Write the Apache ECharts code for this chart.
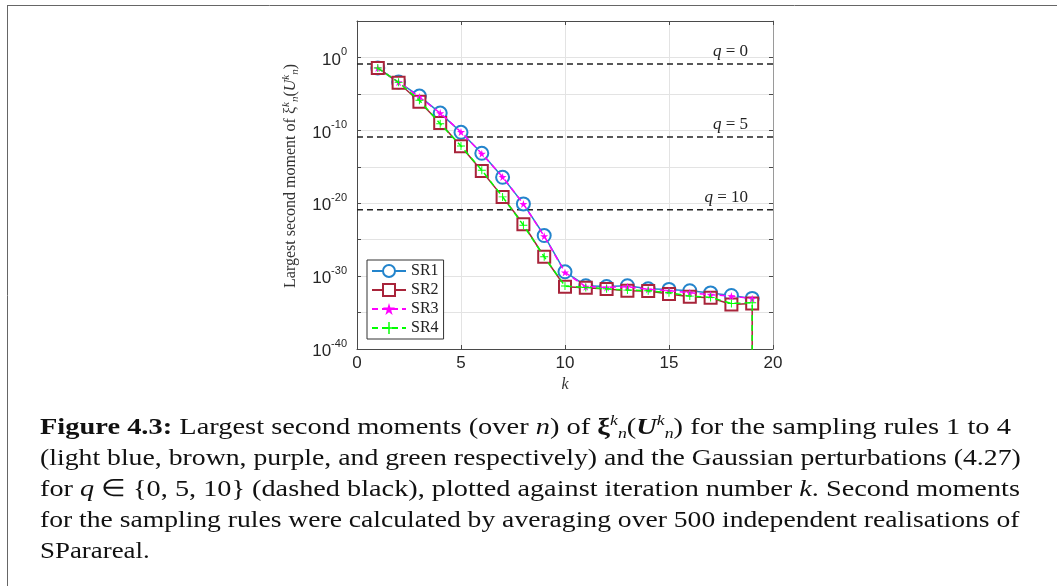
<!DOCTYPE html>
<html><head><meta charset="utf-8">
<script src="https://cdn.jsdelivr.net/npm/echarts@6/dist/echarts.min.js"></script>
<style>html,body{margin:0;padding:0;background:#fff}#c{width:1057px;height:586px}</style>
</head><body><div id="c"></div><script>
const kValues = [1,2,3,4,5,6,7,8,9,10,11,12,13,14,15,16,17,18,19];
const sr1 = [3.5e-2,4.2e-4,5.0e-6,2.3e-8,5.4e-11,7.1e-14,3.6e-17,8.1e-21,3.7e-25,3.9e-30,4.8e-32,3.8e-32,4.8e-32,1.8e-32,1.5e-32,1.0e-32,5.0e-33,2.2e-33,8.7e-34];
const sr2 = [3.5e-2,3.4e-4,8.5e-7,1.0e-9,6.5e-13,2.7e-16,7.4e-20,1.3e-23,4.5e-28,3.5e-32,2.5e-32,1.7e-32,1.0e-32,8.9e-33,3.4e-33,1.5e-33,1.1e-33,1.3e-34,1.8e-34];
const sr3 = [3.5e-2,4.0e-4,3.7e-6,2.3e-8,5.9e-11,6.3e-14,4.1e-17,8.1e-21,3.0e-25,3.2e-30,3.5e-32,2.8e-32,3.5e-32,1.5e-32,1.0e-32,5.2e-33,2.8e-33,1.8e-33,7.9e-34];
const sr4 = [3.5e-2,3.8e-4,1.3e-6,8.1e-10,7.1e-13,3.3e-16,7.4e-20,9.8e-24,4.5e-28,4.3e-32,2.8e-32,1.8e-32,1.2e-32,1.0e-32,5.2e-33,1.8e-33,1.2e-33,1.8e-34,2.2e-34];
const dropValue = 1e-60; // SR2 and SR4 fall off the bottom of the axis at k = 19
const qLevels = [1.26e-1, 1.26e-11, 1.26e-21];
const qNames = ['0','5','10'];
const xTicks = [0,5,10,15,20];
const yTickExps = [-40,-30,-20,-10,0]; // labelled decades (10^e)
const yMinExp = -40, yMaxExp = 5, yStepExp = 5;

const serif = 'Liberation Serif';
const sans = 'Liberation Sans';
const lg = v => Math.log10(v); // y axis is drawn in decades (log10 scale)

function pairs(vals, drop){
  const d = kValues.map((k,i)=>[k, lg(vals[i])]);
  if (drop) d.push({value:[kValues[kValues.length-1], lg(dropValue)], symbol:'none'});
  return d;
}
const starPath = 'path://M50,0 L61,35 L98,35 L68,57 L79,91 L50,70 L21,91 L32,57 L2,35 L39,35 Z';
const plusPath = 'path://M44,0H56V44H100V56H56V100H44V56H0V44H44Z';

const chart = echarts.init(document.getElementById('c'), null, {renderer:'canvas'});
const yLabelFmt = v => yTickExps.indexOf(Math.round(v)) >= 0 ? '{b|10}{s|' + Math.round(v) + '}' : '';
const xLabelFmt = v => xTicks.indexOf(v) >= 0 ? String(v) : '';
const gridColor = '#e3e3e3';
const axisColor = '#4a4a4a';

const qSeries = qLevels.map((q,i)=>({
  type:'line', name:'q'+i, data:[[0,lg(q)],[20,lg(q)]], symbol:'none', silent:true,
  lineStyle:{color:'#222', width:1.5, type:[6,4]}, z:1,
  markLine:{symbol:'none', silent:true, animation:false,
    lineStyle:{color:'rgba(0,0,0,0)', width:1, type:'solid'},
    data:[{yAxis:lg(q)}],
    label:{show:true, position:'insideEndTop', distance:[25,4], color:'#222',
      formatter:'{i|q} = ' + qNames[i],
      fontFamily:serif, fontSize:17,
      rich:{i:{fontFamily:serif, fontStyle:'italic', fontSize:17, color:'#222'}}}}
}));

const option = {
  animation:false,
  backgroundColor:'#fff',
  grid:{left:357, top:21, width:416, height:328, containLabel:false},
  xAxis:[{type:'value', min:0, max:20, interval:5,
    name:'k', nameLocation:'middle', nameGap:28,
    nameTextStyle:{fontFamily:serif, fontStyle:'italic', fontSize:16, color:'#333'},
    axisLine:{show:true, onZero:false, lineStyle:{color:axisColor, width:1}},
    axisTick:{show:true, inside:true, length:4, lineStyle:{color:axisColor}},
    axisLabel:{formatter:xLabelFmt, fontFamily:sans, fontSize:17, color:'#262626', margin:6},
    splitLine:{show:true, lineStyle:{color:gridColor, width:1}}},
   {type:'value', min:0, max:20, interval:5, position:'top',
    axisLine:{show:true, onZero:false, lineStyle:{color:axisColor, width:1}},
    axisTick:{show:true, inside:true, length:4, lineStyle:{color:axisColor}},
    axisLabel:{show:false}, splitLine:{show:false}}],
  yAxis:[{type:'value', min:yMinExp, max:yMaxExp, interval:yStepExp,
    name:'{t|Largest second moment of }{m|ξ}{sup|k}{sub|n}{t|(}{mi|U}{sup|k}{sub|n}{t|)}',
    nameLocation:'middle', nameGap:56,
    nameTextStyle:{fontFamily:serif, fontSize:16, color:'#333', padding:[0,0,0,18],
      rich:{t:{fontFamily:serif, fontSize:16, color:'#333'},
            m:{fontFamily:serif, fontSize:16, color:'#333'},
            mi:{fontFamily:serif, fontStyle:'italic', fontSize:16, color:'#333'},
            sup:{fontFamily:serif, fontStyle:'italic', fontSize:11, color:'#333', verticalAlign:'top', lineHeight:20},
            sub:{fontFamily:serif, fontStyle:'italic', fontSize:11, color:'#333', verticalAlign:'bottom', lineHeight:20}}},
    axisLine:{show:true, onZero:false, lineStyle:{color:axisColor, width:1}},
    axisTick:{show:true, inside:true, length:4, lineStyle:{color:axisColor}},
    axisLabel:{formatter:yLabelFmt, margin:10, color:'#262626',
      rich:{b:{fontFamily:sans, fontSize:17, color:'#262626', lineHeight:22, verticalAlign:'bottom'},
            s:{fontFamily:sans, fontSize:11, color:'#262626', lineHeight:22, verticalAlign:'top'}}},
    splitLine:{show:true, lineStyle:{color:gridColor, width:1}}},
   {type:'value', min:yMinExp, max:yMaxExp, interval:yStepExp, position:'right',
    axisLine:{show:true, onZero:false, lineStyle:{color:'#9a9a9a', width:1}},
    axisTick:{show:true, inside:true, length:4, lineStyle:{color:axisColor}},
    axisLabel:{show:false}, splitLine:{show:false}}],
  legend:{show:true, orient:'vertical', left:367, top:260, data:['SR1','SR2','SR3','SR4'],
    itemWidth:34, itemHeight:15, itemGap:3, padding:[3,5,3,4],
    backgroundColor:'#fff', borderColor:'#333', borderWidth:1, borderRadius:0,
    textStyle:{fontFamily:serif, fontSize:16, lineHeight:14, color:'#222'}},
  series:[
    ...qSeries,
    {type:'line', name:'SR1', data:pairs(sr1,false), symbol:'emptyCircle', symbolSize:13,
      lineStyle:{color:'#2384cc', width:1.5}, itemStyle:{color:'#2384cc', borderWidth:1.5}, z:2},
    {type:'line', name:'SR2', data:pairs(sr2,true), symbol:'emptyRect', symbolSize:12,
      lineStyle:{color:'#a8243a', width:1.5}, itemStyle:{color:'#a8243a', borderWidth:1.5}, z:3},
    {type:'line', name:'SR3', data:pairs(sr3,false), symbol:starPath, symbolSize:8,
      lineStyle:{color:'#ff00ff', width:1.5, type:[6,4]}, itemStyle:{color:'#ff00ff'}, z:4},
    {type:'line', name:'SR4', data:pairs(sr4,true), symbol:plusPath, symbolSize:8,
      lineStyle:{color:'#00ff00', width:1.5, type:[6,4]}, itemStyle:{color:'#00ff00'}, z:5}
  ],
  graphic:[
    {type:'line', shape:{x1:7, y1:5.5, x2:1057, y2:5.5}, style:{stroke:'#666', lineWidth:1}},
    {type:'line', shape:{x1:7.5, y1:5, x2:7.5, y2:586}, style:{stroke:'#666', lineWidth:1}}
  ]
};

const capRich = {
  b:{fontFamily:serif, fontWeight:'bold', fontSize:24},
  i:{fontFamily:serif, fontStyle:'italic', fontSize:24},
  bx:{fontFamily:serif, fontWeight:'bold', fontSize:24},
  bi:{fontFamily:serif, fontWeight:'bold', fontStyle:'italic', fontSize:24},
  sup:{fontFamily:serif, fontStyle:'italic', fontSize:15, verticalAlign:'top', lineHeight:28},
  sub:{fontFamily:serif, fontStyle:'italic', fontSize:15, verticalAlign:'bottom', lineHeight:28}
};
const captionLines = [
  '{b|Figure 4.3:} Largest second moments (over {i|n}) of {bx|ξ}{sup|k}{sub|n}({bi|U}{sup|k}{sub|n}) for the sampling rules 1 to 4',
  '(light blue, brown, purple, and green respectively) and the Gaussian perturbations (4.27)',
  'for {i|q} ∈ {0, 5, 10} (dashed black), plotted against iteration number {i|k}. Second moments',
  'for the sampling rules were calculated by averaging over 500 independent realisations of',
  'SParareal.'
];
const captionScale = [1.185, 1.156, 1.178, 1.150, 1.12];
captionLines.forEach((t,i)=>{
  option.graphic.push({type:'text', x:40, y:428 + i*31, scaleX:captionScale[i], scaleY:1,
    style:{text:t, rich:capRich, x:0, y:0, verticalAlign:'middle', align:'left',
      fontFamily:serif, fontSize:24, fill:'#111'}});
});
chart.setOption(option);
</script></body></html>
